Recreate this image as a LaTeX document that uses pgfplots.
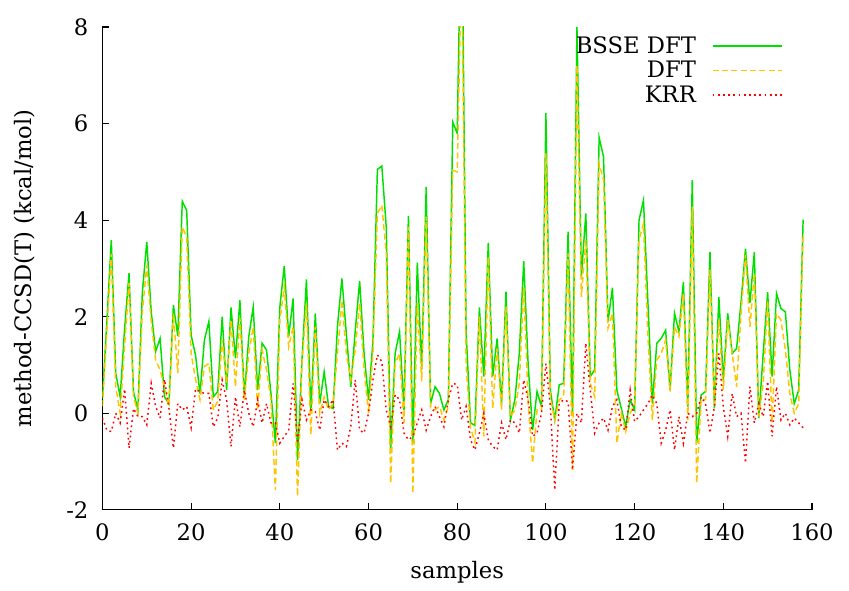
\documentclass[border=0pt]{standalone}
\usepackage{pgfplots}
\pgfplotsset{compat=1.18}
\usepackage{pgfplotstable}
\usepackage{fontspec}
\setmainfont{DejaVu Serif}
\usetikzlibrary{calc}
\definecolor{bsse}{HTML}{00E000}
\definecolor{dft}{HTML}{FFC400}
\definecolor{krr}{HTML}{FF0000}

% sample, BSSE DFT, DFT, KRR (deviation from CCSD(T), kcal/mol)
\pgfplotstableread{
i bsse dft krr
0 0.3 0.15 -0.1
1 1.9 1.7 -0.35
2 3.59 3.3 -0.38
3 0.83 0.55 0.0
4 0.34 0.0 -0.2
5 1.75 1.4 0.5
6 2.9 2.7 -0.72
7 0.45 0.35 0.1
8 0.07 0.0 -0.07
9 2.5 2.1 -0.07
10 3.55 3.07 -0.24
11 2.1 1.9 0.62
12 1.28 1.1 0.14
13 1.55 0.9 -0.1
14 0.34 0.55 0.7
15 0.2 0.15 0.1
16 2.24 2.07 -0.72
17 1.6 0.83 0.2
18 4.39 3.86 0.07
19 4.2 3.65 0.14
20 1.62 1.24 -0.3
21 1.2 0.7 0.5
22 0.41 0.28 0.45
23 1.52 0.97 0.41
24 1.9 1.03 0.41
25 0.34 0.07 -0.28
26 0.45 0.25 -0.1
27 2.0 1.52 0.69
28 0.48 0.62 0.28
29 2.19 1.93 -0.69
30 1.14 0.55 0.34
31 2.34 1.97 -0.28
32 0.34 0.28 0.48
33 1.59 1.24 0.0
34 2.2 1.79 -0.28
35 0.48 0.07 0.28
36 1.45 1.31 -0.2
37 1.31 0.9 0.2
38 0.41 0.28 -0.2
39 -0.62 -1.59 -0.2
40 2.2 1.93 -0.62
41 3.05 2.62 -0.48
42 1.59 1.38 -0.35
43 2.38 1.79 0.62
44 -0.97 -1.72 -0.62
45 1.1 1.03 0.28
46 2.77 2.28 -0.14
47 0.03 -0.45 0.07
48 2.07 1.79 0.03
49 0.2 0.0 -0.35
50 0.86 0.34 0.28
51 0.14 0.07 0.14
52 0.1 0.2 0.28
53 1.8 1.24 -0.76
54 2.79 2.34 -0.62
55 1.65 1.24 -0.69
56 0.55 0.69 -0.28
57 1.7 1.31 0.69
58 2.74 2.28 -0.35
59 1.24 0.9 -0.41
60 0.28 0.0 0.0
61 1.5 1.24 0.69
62 5.05 4.14 1.21
63 5.12 4.31 1.07
64 3.86 3.31 0.07
65 -0.76 -1.45 -0.28
66 1.24 1.03 0.38
67 1.69 1.24 0.28
68 0.07 -0.2 -0.41
69 4.09 3.86 -0.55
70 -0.62 -1.66 -0.48
71 3.12 2.28 -0.2
72 0.9 0.66 0.07
73 4.69 4.07 -0.35
74 0.2 0.14 -0.07
75 0.55 0.07 0.14
76 0.41 0.14 -0.07
77 0.07 -0.14 -0.28
78 0.28 0.14 0.28
79 6.03 5.03 0.62
80 5.8 5.0 0.59
81 11.0 9.5 -0.14
82 1.7 1.0 0.14
83 -0.2 -0.3 -0.55
84 -0.25 -0.6 -0.76
85 2.19 2.0 -0.41
86 0.76 -0.48 0.0
87 3.53 3.24 -0.55
88 0.76 0.1 -0.69
89 1.55 1.34 -0.76
90 0.2 0.07 -0.2
91 2.52 2.21 -0.55
92 -0.14 -0.07 -0.14
93 0.28 0.07 -0.2
94 1.24 0.62 -0.41
95 3.15 2.62 0.69
96 1.0 0.2 0.28
97 -0.35 -1.03 -0.48
98 0.45 0.07 -0.41
99 0.14 0.07 0.0
100 6.22 5.38 1.03
101 0.48 0.34 0.14
102 -0.14 -0.14 -1.59
103 0.59 0.28 0.2
104 0.62 0.34 0.28
105 3.76 3.31 0.24
106 -0.05 -1.17 -1.17
107 8.0 7.2 0.0
108 2.83 2.41 -0.2
109 4.14 3.59 1.45
110 0.76 0.62 0.48
111 0.9 0.34 -0.41
112 5.71 5.17 -0.2
113 5.31 4.83 -0.1
114 1.9 1.76 -0.35
115 2.6 2.07 0.14
116 0.48 -0.62 0.28
117 0.1 0.0 -0.28
118 -0.28 -0.38 -0.35
119 0.28 0.0 0.48
120 0.07 0.2 -0.17
121 4.0 3.59 -0.07
122 4.41 3.93 0.07
123 2.3 1.6 0.2
124 0.2 -0.14 0.38
125 1.45 1.1 0.2
126 1.55 1.24 -0.62
127 1.72 1.52 -0.35
128 0.48 0.45 0.07
129 2.07 1.79 -0.76
130 1.69 1.59 -0.07
131 2.72 2.48 -0.62
132 0.14 -0.14 0.0
133 4.83 4.28 -0.07
134 -0.62 -1.45 0.0
135 0.38 0.28 0.34
136 0.45 0.28 0.2
137 3.34 2.97 -0.41
138 0.1 0.14 0.14
139 2.41 1.93 1.24
140 0.69 0.48 0.14
141 2.07 1.93 -0.48
142 1.24 1.24 0.41
143 1.34 0.55 -0.07
144 2.3 2.07 0.0
145 3.41 3.28 -1.03
146 2.28 1.79 0.55
147 3.34 2.9 -0.2
148 -0.1 -0.07 0.2
149 1.24 0.62 -0.07
150 2.51 2.34 0.66
151 0.76 -0.2 -0.48
152 2.48 2.07 0.55
153 2.17 1.93 -0.14
154 2.1 1.31 0.0
155 0.9 0.41 -0.24
156 0.2 0.0 -0.1
157 0.48 0.2 -0.2
158 4.01 3.72 -0.3
}\samples

\begin{document}
\begin{tikzpicture}
\begin{axis}[name=ax,
  width=532pt,height=362pt,scale only axis,
  xmin=0,xmax=160,ymin=-2,ymax=8,
  axis lines*=left,axis line style={line width=0.8pt},
  tick align=inside,major tick length=5pt,tick style={line width=0.8pt,black},
  xtick={0,20,...,160},
  ytick={-2,0,2,4,6,8},yticklabels={-2,0,2,4,6,8},
  /pgf/number format/assume math mode=true,
  font=\fontsize{17}{20}\selectfont,
  tick label style={font=\fontsize{17}{20}\selectfont},
  xticklabel style={yshift=-6.5pt},
  yticklabel style={xshift=-7pt},
  xlabel={samples},ylabel={method-CCSD(T) (kcal/mol)},
  xlabel style={at={(axis description cs:0.5,-0.13)},anchor=center},
  ylabel style={at={(axis description cs:-0.109,0.5)},anchor=center},
  legend plot pos=right,legend cell align=right,
  legend image code/.code={\draw[#1] (0pt,0pt) -- (52pt,0pt);},
  legend style={draw=none,fill=none,inner sep=0pt,at={(1,1)},anchor=north east,
    xshift=-21.75pt,yshift=-5pt,row sep=0.5pt,column sep=10pt,
    font=\fontsize{17}{20}\selectfont,
    nodes={inner sep=2pt}},
]
\addplot[bsse,line width=1.1pt] table[x=i,y=bsse] {\samples};
\addplot[dft,line width=1.1pt,dash pattern=on 4.5pt off 2.5pt] table[x=i,y=dft] {\samples};
\addplot[krr,line width=1.1pt,dash pattern=on 1.3pt off 2.6pt] table[x=i,y=krr] {\samples};
\legend{BSSE DFT,DFT,KRR}
\end{axis}
\pgfresetboundingbox
\path[use as bounding box] ($(ax.south west)+(-76.8pt,-60.75pt)$) rectangle ($(ax.north east)+(27.75pt,20.25pt)$);
\end{tikzpicture}
\end{document}
